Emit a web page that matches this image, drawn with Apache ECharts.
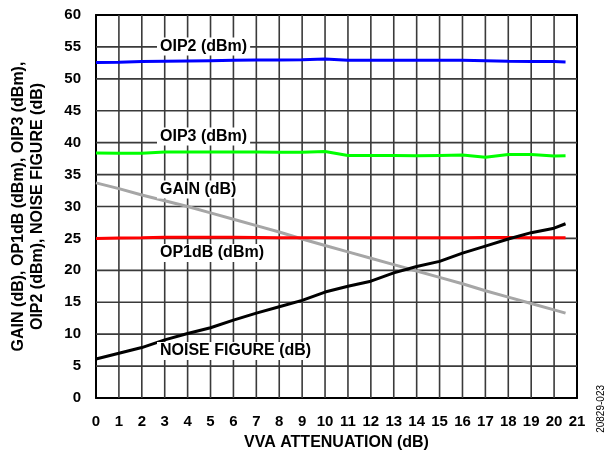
<!DOCTYPE html>
<html>
<head>
<meta charset="utf-8">
<script src="https://cdn.jsdelivr.net/npm/echarts@6/dist/echarts.min.js"></script>
<style>html,body{margin:0;padding:0;background:#fff;}#c{width:613px;height:474px;}</style>
</head>
<body>
<div id="c"></div>
<script>
const attenuation = [0,1,2,3,4,5,6,7,8,9,10,11,12,13,14,15,16,17,18,19,20,20.5];
const oip2  = [52.55,52.6,52.7,52.75,52.8,52.85,52.9,52.95,52.95,53.0,53.1,52.9,52.9,52.9,52.9,52.9,52.9,52.85,52.75,52.7,52.7,52.65];
const oip3  = [38.4,38.35,38.35,38.55,38.55,38.55,38.55,38.55,38.5,38.5,38.6,38.0,38.0,38.0,37.95,38.0,38.05,37.7,38.15,38.15,37.9,37.95];
const op1db = [25.0,25.05,25.1,25.2,25.2,25.2,25.2,25.15,25.1,25.1,25.1,25.1,25.1,25.1,25.1,25.1,25.1,25.15,25.15,25.1,25.1,25.1];
const gain  = [33.7,32.8,31.8,30.9,30.0,29.0,28.0,27.0,26.0,24.9,23.9,22.9,21.9,20.9,19.9,18.9,17.9,16.8,15.8,14.8,13.8,13.3];
const nf    = [6.1,7.0,7.9,9.1,10.1,11.0,12.2,13.3,14.3,15.3,16.6,17.5,18.3,19.6,20.6,21.4,22.7,23.8,24.9,25.9,26.6,27.3];
const xTicks = {min:0, max:21, interval:1};
const yTicks = {min:0, max:60, interval:5};
const labelTexts = ['OIP2 (dBm)','OIP3 (dBm)','GAIN (dB)','OP1dB (dBm)','NOISE FIGURE (dB)'];

const FONT = '"Liberation Sans", Arial, sans-serif';
const GRID_COLOR = '#3a3a3a';
const chart = echarts.init(document.getElementById('c'), null, {renderer:'canvas'});
const pair = arr => attenuation.map((x,i)=>[x,arr[i]]);
const mk = (name, arr, color) => ({
  name, type:'line', data:pair(arr), showSymbol:false, symbol:'none', smooth:false,
  lineStyle:{color, width:3}, z:5, animation:false
});
const innerTicks = t => { const r=[]; for (let v=t.min+t.interval; v<t.max-1e-9; v+=t.interval) r.push(v); return r; };
const gridSeries = [];
innerTicks(xTicks).forEach(v => gridSeries.push({
  type:'line', data:[[v, yTicks.min],[v, yTicks.max]], showSymbol:false, symbol:'none',
  silent:true, animation:false, z:1, lineStyle:{color:GRID_COLOR, width:1.6}
}));
innerTicks(yTicks).forEach(v => gridSeries.push({
  type:'line', data:[[xTicks.min, v],[xTicks.max, v]], showSymbol:false, symbol:'none',
  silent:true, animation:false, z:1, lineStyle:{color:GRID_COLOR, width:1.6}
}));
const lblPos = [[160,47.5],[160,137.5],[160,190.5],[160,254],[160,352]];
chart.setOption({
  animation:false,
  backgroundColor:'#fff',
  grid:{left:96, right:36, top:15, bottom:76, outerBoundsMode:'none', containLabel:false},
  xAxis:[{
    type:'value', min:xTicks.min, max:xTicks.max, interval:xTicks.interval,
    name:'VVA ATTENUATION (dB)', nameLocation:'middle', nameGap:37,
    nameTextStyle:{fontFamily:FONT, fontWeight:'bold', fontSize:16, color:'#000'},
    axisLine:{show:true, onZero:false, lineStyle:{color:'#000', width:2}},
    axisTick:{show:false},
    axisLabel:{fontFamily:FONT, fontWeight:'bold', fontSize:15, color:'#000', margin:16},
    splitLine:{show:false}
  },{
    type:'value', position:'top', min:xTicks.min, max:xTicks.max, interval:xTicks.interval,
    axisLine:{show:true, onZero:false, lineStyle:{color:'#000', width:2}},
    axisTick:{show:false}, axisLabel:{show:false}, splitLine:{show:false}
  }],
  yAxis:[{
    type:'value', min:yTicks.min, max:yTicks.max, interval:yTicks.interval,
    name:'GAIN (dB), OP1dB (dBm), OIP3 (dBm),\nOIP2 (dBm), NOISE FIGURE (dB)', nameLocation:'middle', nameGap:49,
    nameTextStyle:{fontFamily:FONT, fontWeight:'bold', fontSize:16, color:'#000', lineHeight:19},
    axisLine:{show:true, onZero:false, lineStyle:{color:'#000', width:2}},
    axisTick:{show:false},
    axisLabel:{fontFamily:FONT, fontWeight:'bold', fontSize:15, color:'#000', margin:15},
    splitLine:{show:false}
  },{
    type:'value', position:'right', min:yTicks.min, max:yTicks.max, interval:yTicks.interval,
    axisLine:{show:true, onZero:false, lineStyle:{color:'#000', width:2}},
    axisTick:{show:false}, axisLabel:{show:false}, splitLine:{show:false}
  }],
  series: gridSeries.concat([
    mk('OIP2', oip2, '#0000ff'),
    mk('OIP3', oip3, '#00ff00'),
    mk('GAIN', gain, '#a6a6a6'),
    mk('OP1dB', op1db, '#ff0000'),
    mk('NF', nf, '#000000')
  ]),
  graphic: labelTexts.map((t,i)=>({
    type:'text', left:lblPos[i][0]-3, top:lblPos[i][1]-10, z:10,
    style:{text:t, fontFamily:FONT, fontWeight:'bold', fontSize:16, fill:'#000',
      backgroundColor:'#fff', padding:[1,3,1,3]}
  })).concat([{
    type:'text', left:596, top:385, rotation:Math.PI/2, z:10,
    style:{text:'20829-023', fontFamily:FONT, fontSize:10, fill:'#000'}
  }])
});
</script>
</body>
</html>
